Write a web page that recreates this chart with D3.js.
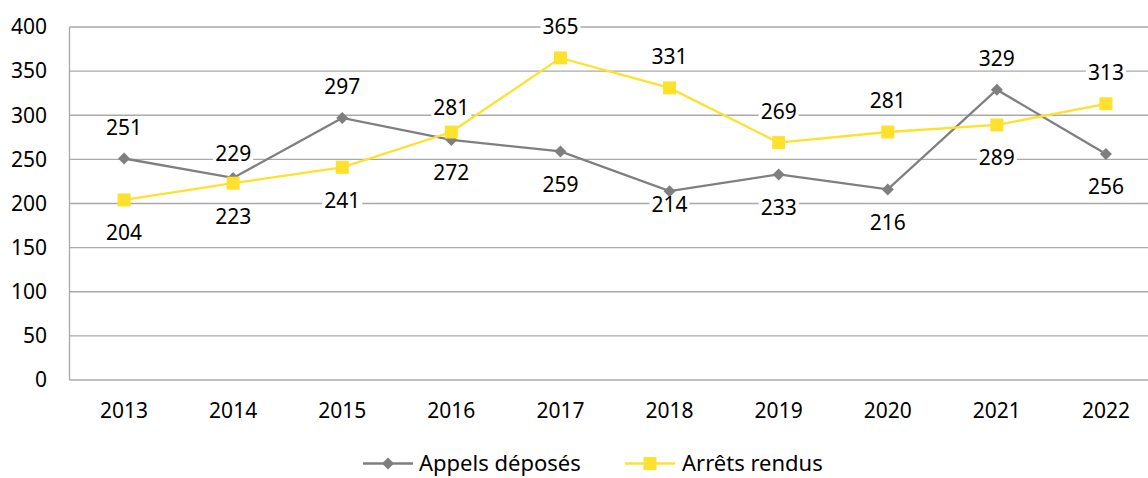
<!DOCTYPE html>
<html><head><meta charset="utf-8">
<script src="https://cdn.jsdelivr.net/npm/d3@7"></script>
<style>
html,body{margin:0;padding:0;background:#fff;}
svg{display:block;font-family:"Noto Sans","Open Sans",sans-serif;}
</style></head>
<body>
<svg id="c" width="1148" height="478"></svg>
<script>
const years = ["2013","2014","2015","2016","2017","2018","2019","2020","2021","2022"];
const appels = [251,229,297,272,259,214,233,216,329,256];
const arrets = [204,223,241,281,365,331,269,281,289,313];
const appelsLabelPos = ["above","nearAbove","above","below","below","nearBelow","below","below","above","below"];
const arretsLabelPos = ["below","below","below","nearAbove","above","above","above","above","below","above"];
const yTicks = [0,50,100,150,200,250,300,350,400];
const seriesNames = ["Appels déposés","Arrêts rendus"];

const grey = "#7f7f7f", yellow = "#FDE12D", gridC = "#a9a9a9";
const svg = d3.select("#c");
const m = {left:69.5, top:27, bottom:380};
const plotW = 1091;
const x = d3.scaleBand().domain(years).range([m.left, m.left+plotW]);
const y = d3.scaleLinear().domain([0,400]).range([m.bottom, m.top]);
const cx = d => x(d) + x.bandwidth()/2;

// gridlines
svg.append("g").selectAll("line").data(yTicks).join("line")
  .attr("x1", m.left).attr("x2", m.left+plotW)
  .attr("y1", d=>y(d)).attr("y2", d=>y(d))
  .attr("stroke", gridC).attr("stroke-width", 1.3);
svg.append("line").attr("x1",m.left).attr("x2",m.left).attr("y1",m.top).attr("y2",m.bottom)
  .attr("stroke", gridC).attr("stroke-width",1.3);

// y axis labels
svg.append("g").selectAll("text").data(yTicks).join("text")
  .attr("x", 47).attr("y", d=>y(d)).attr("dy","0.35em")
  .attr("text-anchor","end").attr("font-size",21).attr("fill","#000").text(d=>d);
// x axis labels
svg.append("g").selectAll("text").data(years).join("text")
  .attr("x", d=>cx(d)).attr("y", 411).attr("dy","0.35em")
  .attr("text-anchor","middle").attr("font-size",21).attr("fill","#000").text(d=>d);

const line = d3.line().x((d,i)=>cx(years[i])).y(d=>y(d));
const diamondSym = d3.symbol().type(d3.symbolSquare).size(72);

// Appels
svg.append("path").datum(appels).attr("d", line).attr("fill","none")
  .attr("stroke", grey).attr("stroke-width", 2.3);
svg.append("g").selectAll("path").data(appels).join("path")
  .attr("d", diamondSym)
  .attr("transform",(d,i)=>`translate(${cx(years[i])},${y(d)}) rotate(45)`)
  .attr("fill", grey);

// Arrets
svg.append("path").datum(arrets).attr("d", line).attr("fill","none")
  .attr("stroke", yellow).attr("stroke-width", 2.3);
const sq = 13;
svg.append("g").selectAll("rect").data(arrets).join("rect")
  .attr("x",(d,i)=>cx(years[i])-sq/2).attr("y",d=>y(d)-sq/2)
  .attr("width",sq).attr("height",sq).attr("fill", yellow);

// labels
const offs = {above:-31, nearAbove:-24, below:33, nearBelow:14};
function labels(vals, pos){
  const g = svg.append("g");
  vals.forEach((v,i)=>{
    const lx = cx(years[i]), ly = y(v) + offs[pos[i]];
    const t = g.append("text").attr("x",lx).attr("y",ly).attr("dy","0.35em")
      .attr("text-anchor","middle").attr("font-size",21).attr("fill","#000").text(v);
    const b = t.node().getBBox();
    g.insert("rect", "text").attr("x",b.x-2).attr("y",ly-9).attr("width",b.width+4).attr("height",18).attr("fill","#fff");
  });
}
labels(appels, appelsLabelPos);
labels(arrets, arretsLabelPos);

// legend
const lg = svg.append("g");
const ly = 463.5;
lg.append("line").attr("x1",363).attr("x2",413).attr("y1",ly).attr("y2",ly).attr("stroke",grey).attr("stroke-width",2.3);
lg.append("path").attr("d", diamondSym).attr("transform",`translate(388,${ly}) rotate(45)`).attr("fill",grey);
lg.append("text").attr("x",419).attr("y",ly).attr("dy","0.35em").attr("font-size",22).attr("fill","#000").text(seriesNames[0]);
lg.append("line").attr("x1",625).attr("x2",675).attr("y1",ly).attr("y2",ly).attr("stroke",yellow).attr("stroke-width",2.3);
lg.append("rect").attr("x",650-sq/2).attr("y",ly-sq/2).attr("width",sq).attr("height",sq).attr("fill",yellow);
lg.append("text").attr("x",682).attr("y",ly).attr("dy","0.35em").attr("font-size",22).attr("fill","#000").text(seriesNames[1]);
</script>
</body></html>
